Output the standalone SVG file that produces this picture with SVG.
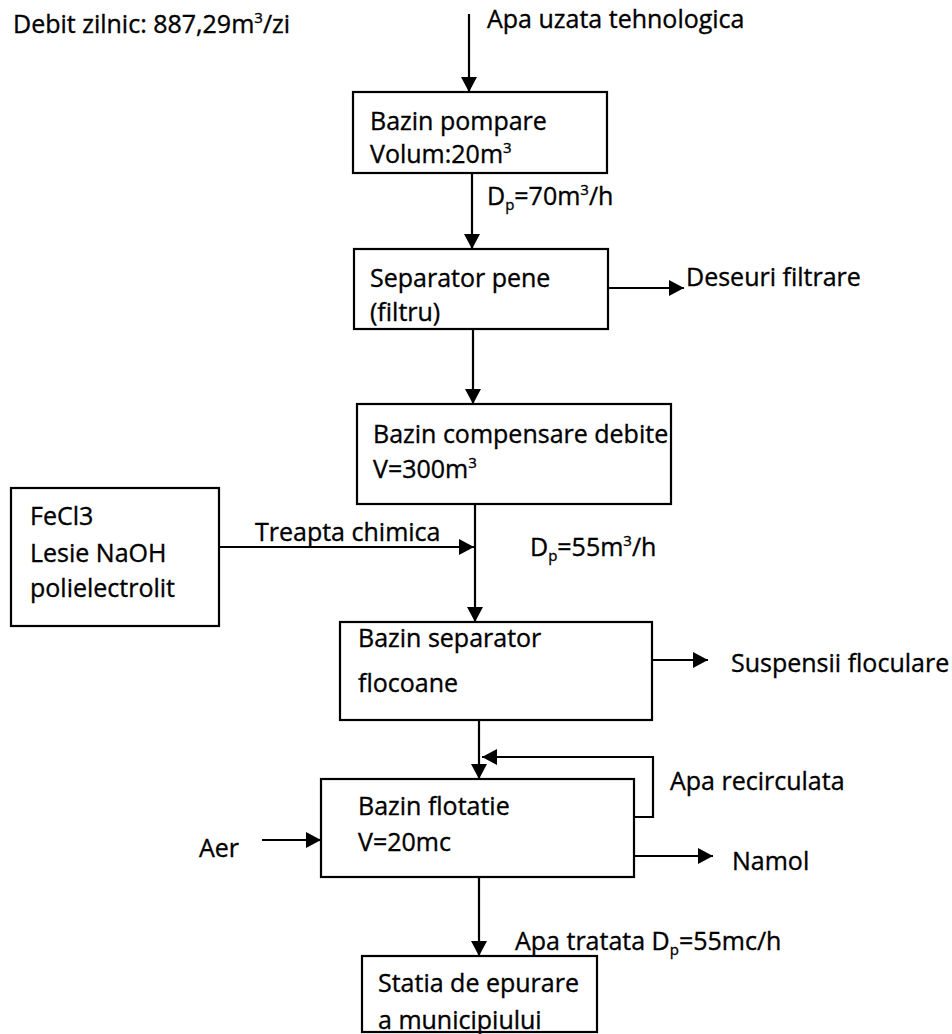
<svg xmlns="http://www.w3.org/2000/svg" width="952" height="1034" viewBox="0 0 952 1034">
<defs>
<style>
text{font-family:"Open Sans",Lato,"Liberation Sans",sans-serif;font-size:25px;fill:#000;stroke:#000;stroke-width:0.35;font-variant-ligatures:none}
.box{fill:#fff;stroke:#000;stroke-width:2.2}
.ln{fill:none;stroke:#000;stroke-width:2.2}
.sup{font-size:15px}
</style>
<marker id="ah" markerUnits="userSpaceOnUse" markerWidth="16" markerHeight="16" refX="15" refY="8" orient="auto">
<path d="M0,0 L15,8 L0,16 z" fill="#000"/>
</marker>
</defs>
<rect width="952" height="1034" fill="#fff"/>

<g id="connectors">
<line class="ln" x1="469" y1="14" x2="469" y2="92" marker-end="url(#ah)"/>
<line class="ln" x1="472" y1="173" x2="472" y2="249" marker-end="url(#ah)"/>
<line class="ln" x1="608" y1="288" x2="684" y2="288" marker-end="url(#ah)"/>
<line class="ln" x1="473" y1="329" x2="473" y2="404" marker-end="url(#ah)"/>
<line class="ln" x1="475" y1="504" x2="475" y2="622" marker-end="url(#ah)"/>
<line class="ln" x1="219" y1="547" x2="474" y2="547" marker-end="url(#ah)"/>
<line class="ln" x1="652" y1="660" x2="708" y2="660" marker-end="url(#ah)"/>
<line class="ln" x1="479" y1="720" x2="479" y2="779" marker-end="url(#ah)"/>
<polyline class="ln" points="634,817 653,817 653,757 482,757" marker-end="url(#ah)"/>
<line class="ln" x1="262" y1="840" x2="321" y2="840" marker-end="url(#ah)"/>
<line class="ln" x1="634" y1="856" x2="713" y2="856" marker-end="url(#ah)"/>
<line class="ln" x1="479" y1="877" x2="479" y2="956" marker-end="url(#ah)"/>
</g>

<g id="label-debit"><text x="13" y="33">Debit zilnic: 887,29m<tspan class="sup" dy="-10">3</tspan><tspan dy="10">/zi</tspan></text></g>
<g id="label-apa-uzata"><text x="487" y="28">Apa uzata tehnologica</text></g>

<g id="bazin-pompare">
<rect class="box" x="353" y="92" width="254" height="81"/>
<text x="370" y="130">Bazin pompare</text>
<text x="370" y="163">Volum:20m<tspan class="sup" dy="-10">3</tspan></text>
</g>

<g id="label-dp70"><text x="487" y="205">D<tspan class="sup" dy="5">p</tspan><tspan dy="-5">=70m</tspan><tspan class="sup" dy="-10">3</tspan><tspan dy="10">/h</tspan></text></g>

<g id="separator-pene">
<rect class="box" x="354" y="249" width="254" height="80"/>
<text x="370" y="287">Separator pene</text>
<text x="370" y="321">(filtru)</text>
</g>
<g id="label-deseuri"><text x="686" y="286">Deseuri filtrare</text></g>

<g id="bazin-compensare">
<rect class="box" x="357" y="404" width="314" height="100"/>
<text x="373" y="443">Bazin compensare debite</text>
<text x="373" y="478">V=300m<tspan class="sup" dy="-10">3</tspan></text>
</g>

<g id="reactivi">
<rect class="box" x="11" y="488" width="208" height="138"/>
<text x="30" y="525">FeCl3</text>
<text x="30" y="562">Lesie NaOH</text>
<text x="30" y="597">polielectrolit</text>
</g>
<g id="label-treapta"><text x="255" y="541">Treapta chimica</text></g>
<g id="label-dp55"><text x="530" y="556">D<tspan class="sup" dy="5">p</tspan><tspan dy="-5">=55m</tspan><tspan class="sup" dy="-10">3</tspan><tspan dy="10">/h</tspan></text></g>

<g id="bazin-separator">
<rect class="box" x="340" y="622" width="312" height="98"/>
<text x="358" y="647">Bazin separator</text>
<text x="358" y="692">flocoane</text>
</g>
<g id="label-suspensii"><text x="731" y="672">Suspensii floculare</text></g>

<g id="bazin-flotatie">
<rect class="box" x="321" y="779" width="313" height="98"/>
<text x="358" y="815">Bazin flotatie</text>
<text x="358" y="851">V=20mc</text>
</g>
<g id="label-recirc"><text x="670" y="790">Apa recirculata</text></g>
<g id="label-aer"><text x="199" y="857">Aer</text></g>
<g id="label-namol"><text x="732" y="870">Namol</text></g>
<g id="label-apa-tratata"><text x="515" y="950">Apa tratata D<tspan class="sup" dy="5">p</tspan><tspan dy="-5">=55mc/h</tspan></text></g>

<g id="statia-epurare">
<rect class="box" x="362" y="956" width="235" height="76"/>
<text x="378" y="992">Statia de epurare</text>
<text x="378" y="1029">a municipiului</text>
</g>
</svg>
